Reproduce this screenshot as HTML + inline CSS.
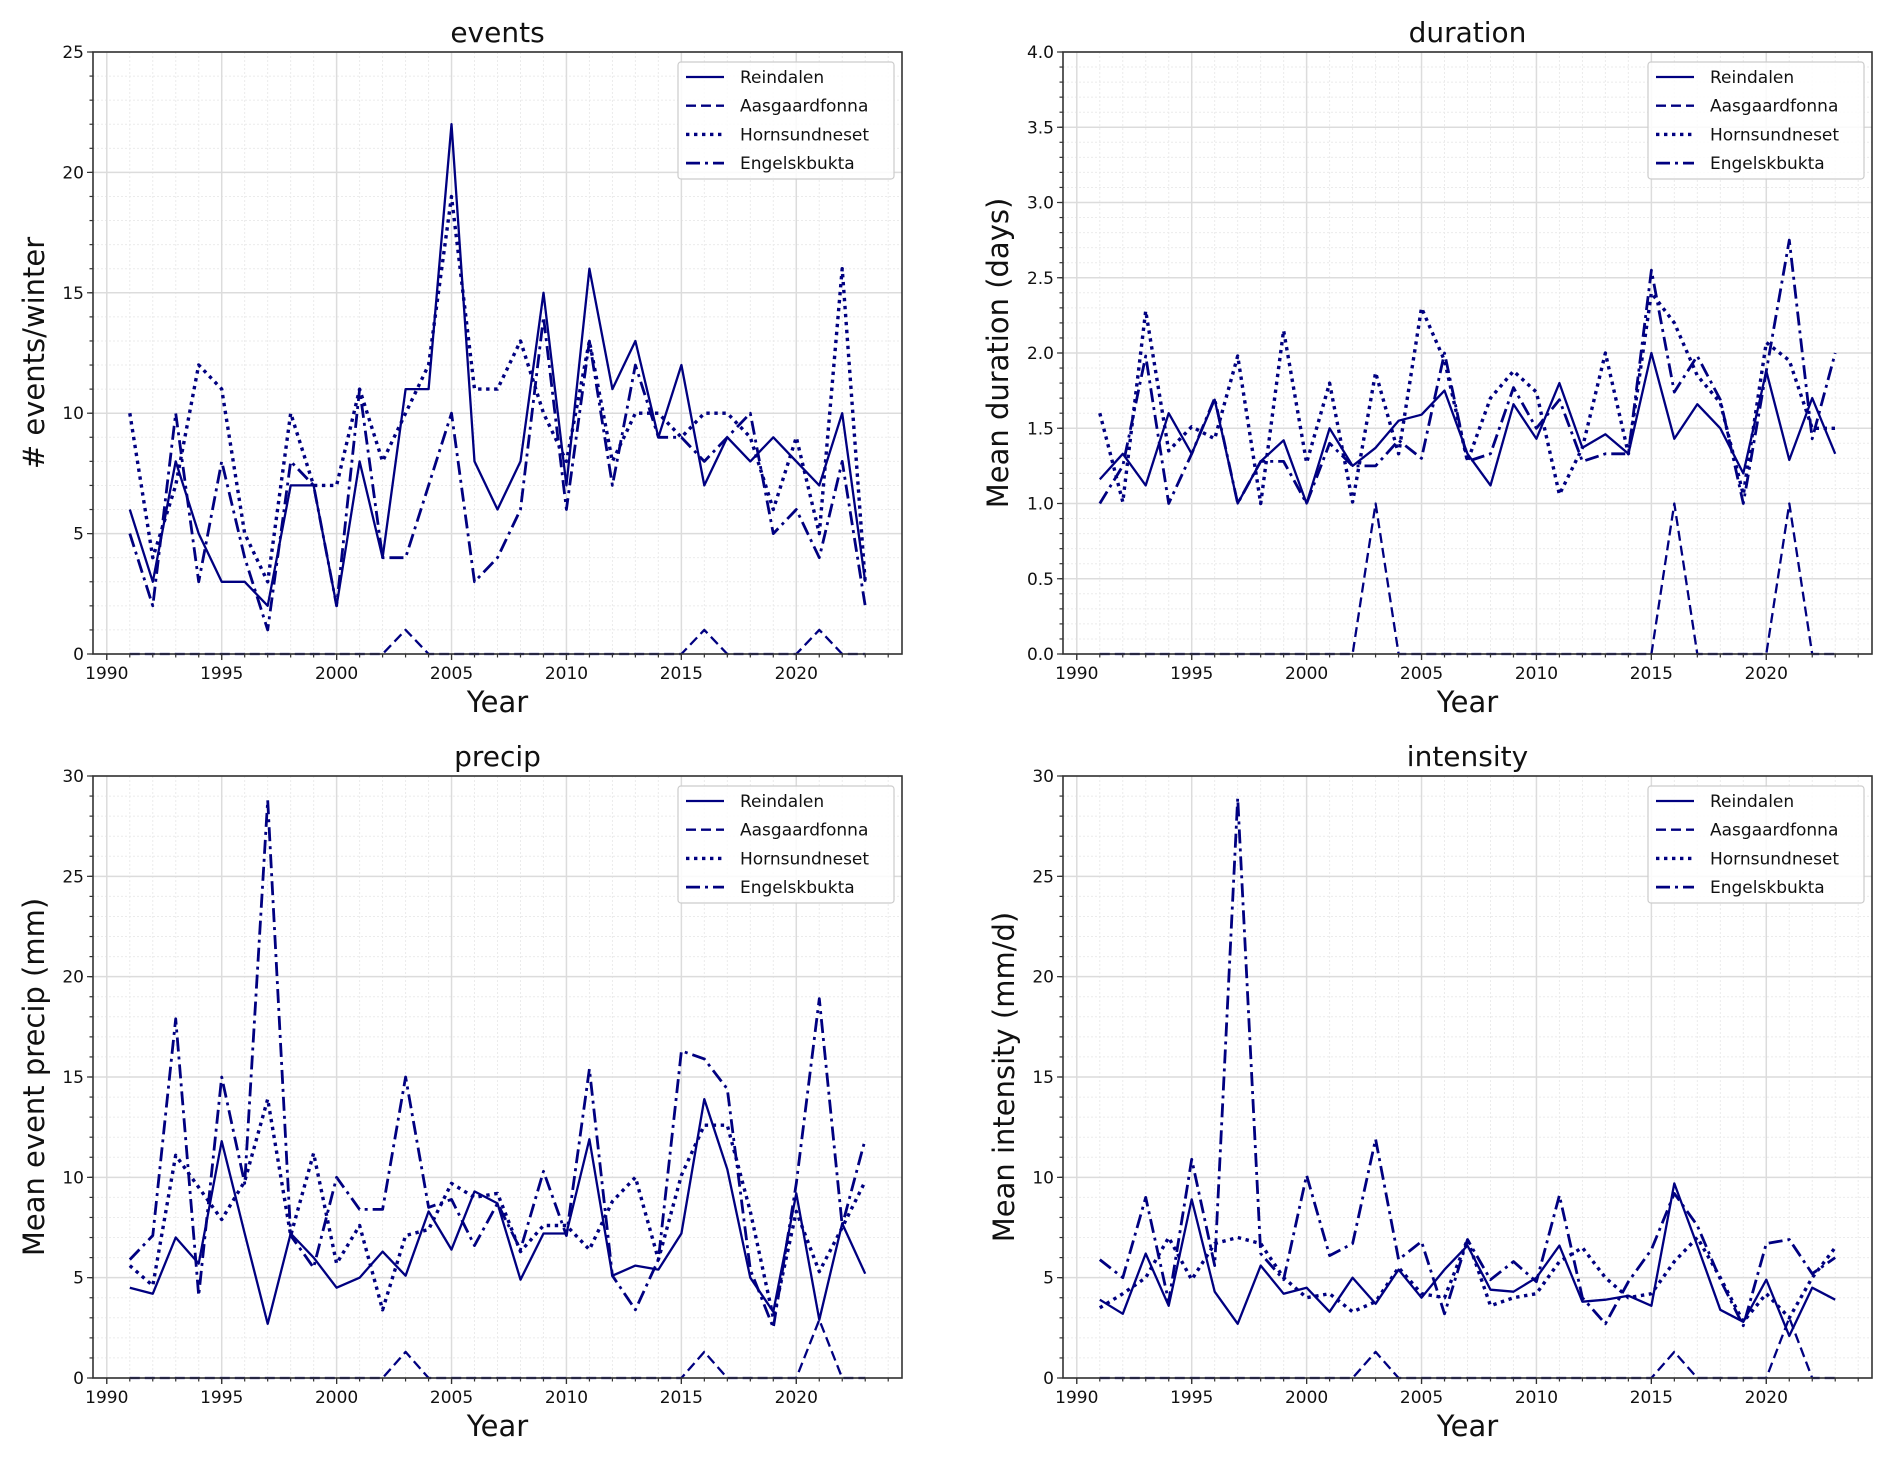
<!DOCTYPE html>
<html><head><meta charset="utf-8"><style>
html,body{margin:0;padding:0;background:#fff;}
svg{display:block;font-family:"DejaVu Sans","Liberation Sans",sans-serif;}
</style></head><body>
<svg id="fig" width="1892" height="1459" viewBox="0 0 1892 1459" xmlns="http://www.w3.org/2000/svg"></svg>
<script>
const years = [];
for (let y = 1991; y <= 2023; y++) years.push(y);
const seriesNames = ["Reindalen","Aasgaardfonna","Hornsundneset","Engelskbukta"];

const eventsReindalen = [6,3,8,5,3,3,2,7,7,2,8,4,11,11,22,8,6,8,15,7,16,11,13,9,12,7,9,8,9,8,7,10,3];
const eventsAasgaard = [0,0,0,0,0,0,0,0,0,0,0,0,1,0,0,0,0,0,0,0,0,0,0,0,0,1,0,0,0,0,1,0,0];
const eventsHornsund = [10,4,7,12,11,5,3,10,7,7,11,8,10,12,19,11,11,13,10,8,13,8,10,10,9,10,10,9,6,9,5,16,3];
const eventsEngels = [5,2,10,3,8,4,1,8,7,2,11,4,4,7,10,3,4,6,14,6,13,7,12,9,9,8,9,10,5,6,4,8,2];

const durReindalen = [1.16,1.33,1.12,1.6,1.33,1.69,1.0,1.28,1.42,1.0,1.5,1.25,1.37,1.55,1.59,1.75,1.33,1.12,1.66,1.43,1.8,1.37,1.46,1.33,2.0,1.43,1.66,1.5,1.2,1.88,1.29,1.7,1.33];
const durAasgaard = [0,0,0,0,0,0,0,0,0,0,0,0,1,0,0,0,0,0,0,0,0,0,0,0,0,1,0,0,0,0,1,0,0];
const durHornsund = [1.6,1.01,2.28,1.35,1.51,1.43,1.98,1.0,2.15,1.27,1.8,1.01,1.87,1.33,2.3,1.95,1.28,1.7,1.88,1.74,1.06,1.37,2.0,1.33,2.4,2.2,1.85,1.67,1.06,2.07,1.95,1.5,1.5];
const durEngels = [1.0,1.25,1.98,1.0,1.33,1.7,1.0,1.28,1.28,1.0,1.4,1.25,1.25,1.42,1.3,2.0,1.28,1.33,1.77,1.5,1.69,1.28,1.33,1.33,2.55,1.74,1.98,1.69,1.0,1.88,2.75,1.43,2.0];

const precReindalen = [4.5,4.2,7.0,5.7,11.8,7.2,2.7,7.2,6.0,4.5,5.0,6.3,5.1,8.3,6.4,9.3,8.7,4.9,7.2,7.2,11.9,5.1,5.6,5.4,7.2,13.9,10.4,5.0,3.3,9.2,2.9,7.7,5.2];
const precAasgaard = [0,0,0,0,0,0,0,0,0,0,0,0,1.3,0,0,0,0,0,0,0,0,0,0,0,0,1.3,0,0,0,0,2.9,0,0];
const precHornsund = [5.6,4.6,11.1,9.5,7.9,9.8,13.9,7.1,11.2,5.7,7.6,3.4,7.1,7.4,9.7,9.0,9.2,6.3,7.6,7.6,6.4,8.8,10.0,5.9,10.1,12.6,12.6,8.3,3.0,8.3,5.3,7.5,9.8];
const precEngels = [5.9,7.1,17.9,4.1,15.0,9.7,28.8,7.1,5.5,10.0,8.4,8.4,15.0,8.5,8.9,6.6,8.7,6.4,10.3,7.1,15.4,5.1,3.4,5.9,16.3,15.9,14.4,5.4,2.5,9.7,18.9,7.6,11.9];

const intReindalen = [3.9,3.2,6.2,3.6,8.9,4.3,2.7,5.6,4.2,4.5,3.3,5.0,3.7,5.4,4.0,5.4,6.6,4.4,4.3,5.0,6.6,3.8,3.9,4.1,3.6,9.7,6.6,3.4,2.8,4.9,2.1,4.5,3.9];
const intAasgaard = [0,0,0,0,0,0,0,0,0,0,0,0,1.3,0,0,0,0,0,0,0,0,0,0,0,0,1.3,0,0,0,0,3.0,0,0];
const intHornsund = [3.5,4.2,5.0,7.0,4.9,6.7,7.0,6.7,5.0,4.0,4.2,3.3,3.8,5.5,4.2,4.0,6.9,3.6,4.0,4.2,5.8,6.5,5.0,4.0,4.2,5.8,7.0,5.0,2.8,4.2,3.0,5.0,6.5];
const intEngels = [5.9,5.0,9.0,3.8,10.9,5.6,28.9,6.2,4.9,10.1,6.1,6.7,11.9,5.9,6.8,3.2,6.9,4.9,5.8,4.8,9.1,4.0,2.7,4.8,6.4,9.2,7.6,4.9,2.6,6.7,6.9,5.2,6.0];

const xTicks = [1990,1995,2000,2005,2010,2015,2020];
const eventsTicks = [0,5,10,15,20,25];
const durTicks = [0,0.5,1,1.5,2,2.5,3,3.5,4];
const durTickLabels = ["0.0","0.5","1.0","1.5","2.0","2.5","3.0","3.5","4.0"];
const precTicks = [0,5,10,15,20,25,30];

const NS = "http://www.w3.org/2000/svg";
const svg = document.getElementById("fig");
const COLOR = "#000080";
const LW = [2.3, 2.3, 3.4, 2.8];
const dashes = ["", "10 5", "3.4 4.6", "14 5 3 5"];

function mk(tag, attrs, parent) {
  const e = document.createElementNS(NS, tag);
  for (const k in attrs) e.setAttribute(k, attrs[k]);
  (parent || svg).appendChild(e);
  return e;
}

function panel(p) {
  const g = mk("g", {});
  
  
  const L = p.x0, R = p.x0 + 809, T = p.y0, B = p.y0 + 602;
  const xmin = 1989.4, xmax = 2024.6;
  const sx = v => L + (v - xmin) / (xmax - xmin) * (R - L);
  const sy = v => B - (v - p.ymin) / (p.ymax - p.ymin) * (B - T);
  for (let yr = 1990; yr <= 2024; yr++) {
    if (yr % 5) {
      const ln = mk("line", {x1:sx(yr),x2:sx(yr),y1:T,y2:B,stroke:"#ebebeb","stroke-width":1,"stroke-dasharray":"2 2"}, g);
      
      
    }
  }
  for (let v = p.ymin; v <= p.ymax + 1e-9; v += p.minor) {
    const ln = mk("line", {x1:L,x2:R,y1:sy(v),y2:sy(v),stroke:"#ebebeb","stroke-width":1,"stroke-dasharray":"2 2"}, g);
    
    
  }
  xTicks.forEach(t => {
    const ln = mk("line", {x1:sx(t),x2:sx(t),y1:T,y2:B,stroke:"#dcdcdc","stroke-width":1.5}, g);
    
    
  });
  p.ticks.forEach(t => {
    const ln = mk("line", {x1:L,x2:R,y1:sy(t),y2:sy(t),stroke:"#dcdcdc","stroke-width":1.5}, g);
    
    
  });
  p.series.forEach((arr, i) => {
    const pts = arr.map((v, j) => sx(years[j]).toFixed(1) + "," + sy(v).toFixed(1)).join(" ");
    const pl = mk("polyline", {points:pts,fill:"none",stroke:COLOR,"stroke-width":LW[i],"stroke-linejoin":"round"}, g);
    if (dashes[i]) pl.setAttribute("stroke-dasharray", dashes[i]);
    
    
  });
  const fr = mk("rect", {x:L,y:T,width:R-L,height:B-T,fill:"none",stroke:"#333","stroke-width":1.6}, g);
  
  
  for (let yr = 1990; yr <= 2024; yr++) {
    const big = yr % 5 === 0;
    mk("line", {x1:sx(yr),x2:sx(yr),y1:B,y2:B+(big?6:3.5),stroke:"#333","stroke-width":1.2}, g);
  }
  for (let v = p.ymin; v <= p.ymax + 1e-9; v += p.minor) {
    mk("line", {x1:L,x2:L-3.5,y1:sy(v),y2:sy(v),stroke:"#333","stroke-width":1.2}, g);
  }
  xTicks.forEach(t => {
    mk("line", {x1:sx(t),x2:sx(t),y1:B,y2:B+6,stroke:"#333","stroke-width":1.2}, g);
    const tx = mk("text", {x:sx(t),y:B+25,"text-anchor":"middle","font-size":17,fill:"#111"}, g);
    tx.textContent = t;
    
    
  });
  p.ticks.forEach((t, k) => {
    mk("line", {x1:L,x2:L-6,y1:sy(t),y2:sy(t),stroke:"#333","stroke-width":1.2}, g);
    const tx = mk("text", {x:L-9,y:sy(t)+6,"text-anchor":"end","font-size":17,fill:"#111"}, g);
    tx.textContent = p.labels[k];
    
    
  });
  const ti = mk("text", {x:(L+R)/2,y:T-10,"text-anchor":"middle","font-size":28,fill:"#111"}, g);
  ti.textContent = p.title;
  
  
  const xl = mk("text", {x:(L+R)/2,y:B+58,"text-anchor":"middle","font-size":29,fill:"#111"}, g);
  xl.textContent = "Year";
  
  
  const cy = (T+B)/2;
  const yl = mk("text", {x:p.ylx,y:cy,"text-anchor":"middle","font-size":29,fill:"#111",transform:`rotate(-90 ${p.ylx} ${cy})`}, g);
  yl.textContent = p.ylabel;
  
  
  const lx = R - 224, ly = T + 10;
  const lg = mk("g", {}, g);
  
  
  mk("rect", {x:lx,y:ly,width:216,height:117,rx:3,fill:"#fff","fill-opacity":0.85,stroke:"#cccccc","stroke-width":1.2}, lg);
  seriesNames.forEach((n, i) => {
    const yy = ly + 15 + i * 28.7;
    const sl = mk("line", {x1:lx+8,x2:lx+46,y1:yy,y2:yy,stroke:COLOR,"stroke-width":LW[i]}, lg);
    if (dashes[i]) sl.setAttribute("stroke-dasharray", dashes[i]);
    const lt = mk("text", {x:lx+62,y:yy+6,"font-size":17,fill:"#111"}, lg);
    lt.textContent = n;
    
    
  });
}

panel({name:"events",title:"events",ylabel:"# events/winter",x0:93,y0:52,ymin:0,ymax:25,minor:1,ticks:eventsTicks,labels:eventsTicks.map(String),ylx:44,
  series:[eventsReindalen,eventsAasgaard,eventsHornsund,eventsEngels]});
panel({name:"duration",title:"duration",ylabel:"Mean duration (days)",x0:1063,y0:52,ymin:0,ymax:4,minor:0.1,ticks:durTicks,labels:durTickLabels,ylx:1008,
  series:[durReindalen,durAasgaard,durHornsund,durEngels]});
panel({name:"precip",title:"precip",ylabel:"Mean event precip (mm)",x0:93,y0:776,ymin:0,ymax:30,minor:1,ticks:precTicks,labels:precTicks.map(String),ylx:44,
  series:[precReindalen,precAasgaard,precHornsund,precEngels]});
panel({name:"intensity",title:"intensity",ylabel:"Mean intensity (mm/d)",x0:1063,y0:776,ymin:0,ymax:30,minor:1,ticks:precTicks,labels:precTicks.map(String),ylx:1014,
  series:[intReindalen,intAasgaard,intHornsund,intEngels]});
</script>
</body></html>
